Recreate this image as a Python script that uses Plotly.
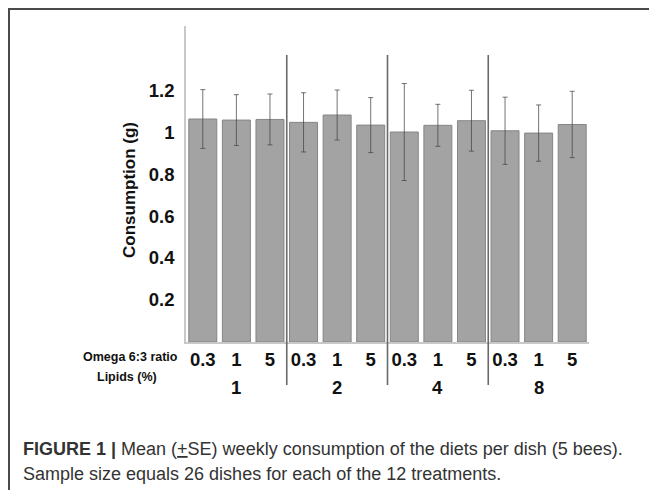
import plotly.graph_objects as go

# ---- data ----
ratio_labels = ["0.3", "1", "5", "0.3", "1", "5", "0.3", "1", "5", "0.3", "1", "5"]
lipid_groups = ["1", "2", "4", "8"]
consumption = [1.062, 1.057, 1.060, 1.046, 1.081, 1.033, 1.000, 1.032, 1.054, 1.006, 0.995, 1.036]
se = [0.140, 0.121, 0.121, 0.141, 0.119, 0.131, 0.231, 0.100, 0.145, 0.160, 0.134, 0.158]
y_ticks = [0.2, 0.4, 0.6, 0.8, 1.0, 1.2]
y_ticktext = ["0.2", "0.4", "0.6", "0.8", "1", "1.2"]

# page body adds an 8px offset; work in reference pixel coords and shift
OFF = 8
W, H = 657 - OFF, 490 - OFF
# plot area in reference pixels: x 186..589, y 26..342
X0, X1, Y0, Y1 = 186, 589, 26, 342
L, R, T, B = X0 - OFF, 657 - X1, Y0 - OFF, 490 - Y1
PW, PH = X1 - X0, Y1 - Y0


def px_x(p):
    return (p - X0) / PW


def px_y(p):
    return (Y1 - p) / PH


FONT = "Liberation Sans, Arial, sans-serif"
xs = list(range(len(consumption)))

fig = go.Figure()
fig.add_trace(go.Bar(
    x=xs, y=consumption,
    marker=dict(color="#a3a3a3", line=dict(color="#858585", width=1)),
    error_y=dict(type="data", array=se, visible=True, color="rgba(70,70,70,0.75)",
                 thickness=1, width=2.5),
    showlegend=False,
))

shapes = []
# group separators
for b in [2.5, 5.5, 8.5]:
    shapes.append(dict(type="line", xref="x", yref="paper", x0=b, x1=b,
                       y0=px_y(385), y1=px_y(55),
                       line=dict(color="#6a6a6a", width=1.6)))
# outer frame (left and top)
shapes.append(dict(type="line", xref="paper", yref="paper", x0=px_x(9), x1=px_x(9),
                   y0=px_y(9), y1=px_y(495), line=dict(color="#4a4a4a", width=2)))
shapes.append(dict(type="line", xref="paper", yref="paper", x0=px_x(8), x1=px_x(660),
                   y0=px_y(9), y1=px_y(9), line=dict(color="#4a4a4a", width=2)))


def ann(x, y, text, size, color="#111", xref="paper", xanchor="center", angle=0):
    return dict(x=x, xref=xref, y=y, yref="paper", text=text, showarrow=False,
                xanchor=xanchor, yanchor="middle", textangle=angle,
                font=dict(family=FONT, size=size, color=color))


annotations = []
for gi, g in enumerate(lipid_groups):
    annotations.append(ann(gi * 3 + 1, px_y(387), f"<b>{g}</b>", 18.5, xref="x"))
annotations.append(ann(px_x(130), px_y(357), "<b>Omega 6:3 ratio</b>", 12.5))
annotations.append(ann(px_x(127), px_y(377), "<b>Lipids (%)</b>", 12.5))
annotations.append(ann(px_x(129), px_y(190), "<b>Consumption (g)</b>", 17, angle=-90))
annotations.append(ann(px_x(21), px_y(449),
                       "<b>FIGURE 1 |</b> Mean (<u>+</u>SE) weekly consumption of the diets per dish (5 bees).",
                       18, color="#333", xanchor="left"))
annotations.append(ann(px_x(21), px_y(474),
                       "Sample size equals 26 dishes for each of the 12 treatments.",
                       18, color="#333", xanchor="left"))

fig.update_layout(
    width=W, height=H,
    margin=dict(l=L, r=R, t=T, b=B, pad=0),
    paper_bgcolor="white", plot_bgcolor="white",
    bargap=0.167,
    shapes=shapes, annotations=annotations,
    xaxis=dict(range=[-0.5, 11.5], tickvals=xs, ticktext=[f"<b>{t}</b>" for t in ratio_labels],
               showline=True, linecolor="#c8c8c8", linewidth=1.5, showgrid=False,
               zeroline=False, ticks="", ticklabelstandoff=0,
               tickfont=dict(family=FONT, size=18.5, color="#111")),
    yaxis=dict(range=[0, 1.505], tickvals=y_ticks, ticktext=[f"<b>{t}</b>" for t in y_ticktext],
               showline=True, linecolor="#c8c8c8", linewidth=1.5, showgrid=False,
               zeroline=False, ticks="", ticklabelstandoff=6,
               tickfont=dict(family=FONT, size=18.5, color="#111")),
)

fig.write_html("out.html")
